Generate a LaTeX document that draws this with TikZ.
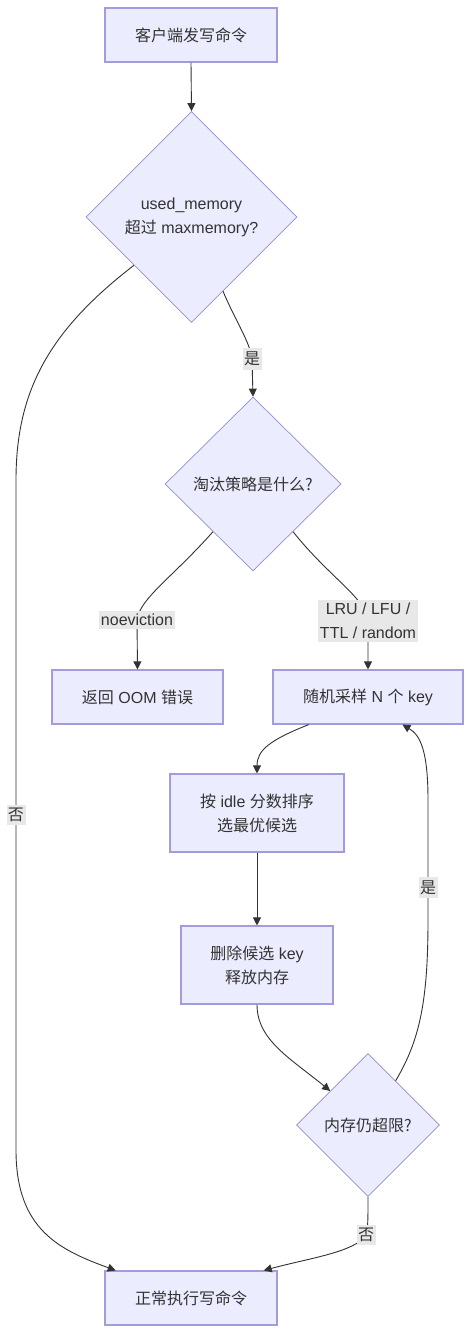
\documentclass[tikz,border=0pt]{standalone}
\usepackage{fontspec}
\setmainfont{Liberation Sans}
\newfontfamily\cjk{Noto Sans CJK SC}
\usetikzlibrary{shapes.geometric,arrows.meta,calc}
\definecolor{nodefill}{HTML}{ECECFF}
\definecolor{nodeline}{HTML}{A39BDB}
\definecolor{dialine}{HTML}{948FC8}
\definecolor{txt}{HTML}{333333}
\definecolor{lbl}{HTML}{E8E8E8}
\begin{document}
\begin{tikzpicture}[x=1pt,y=-1pt,
 box/.style={draw=nodeline,fill=nodefill,line width=1.1pt,inner sep=0pt,text=txt,align=center,font=\fontsize{16}{24}\selectfont},
 dia/.style={draw=dialine,fill=nodefill,line width=0.7pt,diamond,aspect=1,inner sep=0pt,text=txt,align=center,font=\fontsize{16}{24}\selectfont},
 edge/.style={draw=txt,line width=0.9pt,-{Triangle[length=8pt,width=8pt]}},
 elabel/.style={fill=lbl,text=txt,inner xsep=1.5pt,inner ysep=3.5pt,align=center,font=\fontsize{16}{24}\selectfont}
]
\useasboundingbox[fill=white] (0,0) rectangle (471,1333);

\node[box,minimum width=172pt,minimum height=54pt] (A) at (191,35) {{\cjk 客户端发写命令}};
\node[dia,minimum width=211pt,minimum height=211pt] (B) at (191.5,217) {used\_memory\\{\cjk 超过} maxmemory?};
\node[dia,minimum width=176pt,minimum height=174pt] (C) at (253,484) {{\cjk 淘汰策略是什么?}};
\node[box,minimum width=171pt,minimum height=54pt] (O) at (137.5,697) {{\cjk 返回} OOM {\cjk 错误}};
\node[box,minimum width=190pt,minimum height=54pt] (S) at (368,697) {{\cjk 随机采样} N {\cjk 个} key};
\node[box,minimum width=174pt,minimum height=78pt] (R) at (257,813) {{\cjk 按} idle {\cjk 分数排序}\\{\cjk 选最优候选}};
\node[box,minimum width=152pt,minimum height=78pt] (D) at (257,965) {{\cjk 删除候选} key\\{\cjk 释放内存}};
\node[dia,minimum width=143pt,minimum height=143pt] (E) at (368,1125) {{\cjk 内存仍超限?}};
\node[box,minimum width=172pt,minimum height=54pt] (F) at (191,1298) {{\cjk 正常执行写命令}};

% edges
\draw[edge] (A.south) -- (B.north);
\draw[edge] (B.-67) .. controls (236,322) and (250,342) .. (252,359)
  node[elabel] {{\cjk 是}} -- (C.north);
\draw[edge] (B.-140.5) .. controls (50,330) and (16,390) .. (16,480)
  -- (16,1150) node[elabel,midway] {{\cjk 否}}
  .. controls (16,1230) and (60,1250) .. ($(F.north west)!0.065!(F.north east)$);
\draw[edge] (C.-130) .. controls (172,578) and (140,598) .. (137,620)
  node[elabel] {noeviction} -- (O.north);
\draw[edge] (C.-50.8) .. controls (330,578) and (366,598) .. (368,621)
  node[elabel] {LRU / LFU /\\TTL / random} -- (S.north);
\draw[edge] ($(S.south west)!0.19!(S.south east)$) .. controls (270,740) and (257,750) .. (R.north);
\draw[edge] (R.south) -- (D.north);
\draw[edge] (D.south) .. controls (257,1040) and (290,1058) .. (E.138);
\draw[edge] (E.58.7) .. controls (420,1040) and (428,1000) .. (428,920)
  -- (428,800) node[elabel,pos=0.27] {{\cjk 是}}
  .. controls (428,750) and (420,735) .. ($(S.south west)!0.68!(S.south east)$);
\draw[edge] (E.south) .. controls (368,1220) and (368,1228) .. (366,1235)
  node[elabel] {{\cjk 否}}
  .. controls (355,1252) and (310,1258) .. ($(F.north west)!0.92!(F.north east)$);
\end{tikzpicture}
\end{document}
